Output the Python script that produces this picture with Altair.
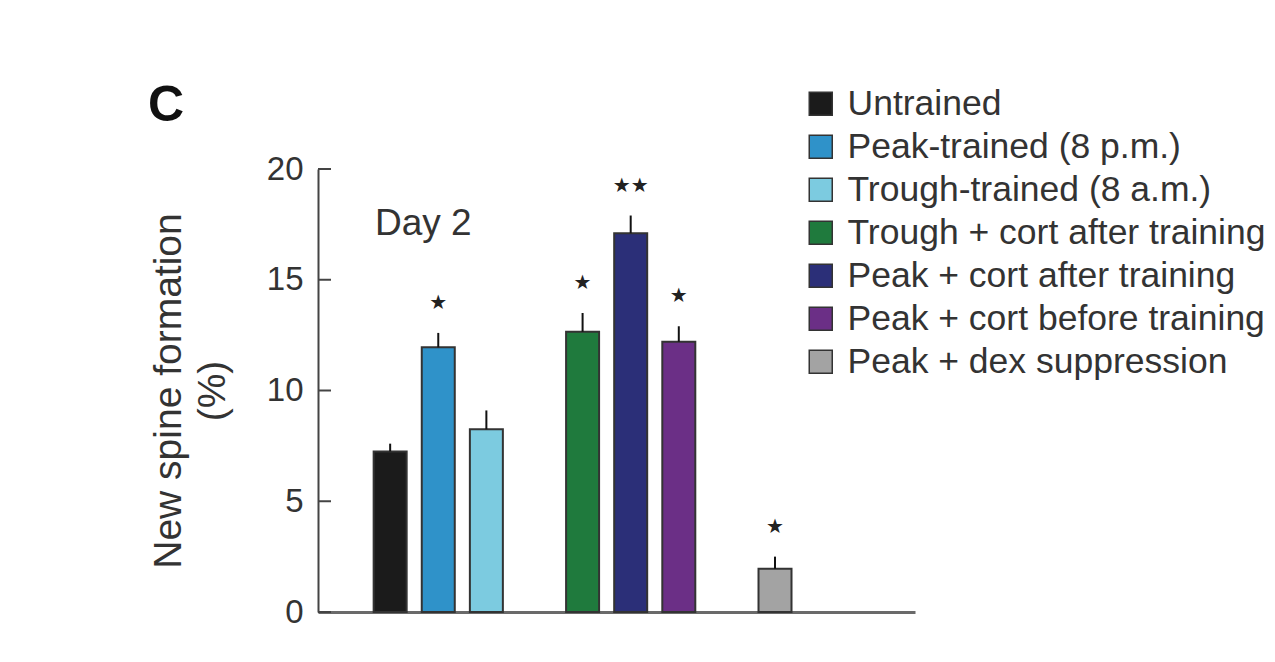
import altair as alt
import pandas as pd

# ---- data ----
groups = [
    "Untrained",
    "Peak-trained (8 p.m.)",
    "Trough-trained (8 a.m.)",
    "Trough + cort after training",
    "Peak + cort after training",
    "Peak + cort before training",
    "Peak + dex suppression",
]
means = [7.25, 11.95, 8.25, 12.65, 17.1, 12.2, 1.95]
sems = [0.35, 0.65, 0.85, 0.85, 0.8, 0.7, 0.55]
stars = ["", "★", "", "★", "★★", "★", "★"]
colors = ["#1b1b1b", "#2f92c9", "#7ccbe0", "#1f7a3d", "#2b2f78", "#6b2f86", "#a3a3a3"]
y_ticks = [0, 5, 10, 15, 20]

# band slots: empty spacer slots around and between the three groups of bars
x_domain = [" "] + groups[:3] + ["  "] + groups[3:6] + ["   "] + groups[6:] + ["    ", "     "]

df = pd.DataFrame({
    "group": groups,
    "mean": means,
    "upper": [m + s for m, s in zip(means, sems)],
    "star": stars,
})

FONT = "Liberation Sans"
TXT = "#333333"

x_scale = alt.Scale(domain=x_domain, paddingInner=0, paddingOuter=0.205, align=0)
y_scale = alt.Scale(domain=[0, 20], nice=False)

x_axis = alt.Axis(labels=False, ticks=False, title=None,
                  domainColor="#6a6a6a", domainWidth=3)
y_axis = alt.Axis(values=y_ticks, ticks=False, tickSize=0, grid=False,
                  domainColor="#444444", domainWidth=2,
                  labelFont=FONT, labelFontSize=33, labelColor=TXT,
                  labelPadding=15,
                  title=["New spine formation", "(%)"],
                  titleFont=FONT, titleFontSize=39, titleFontWeight="normal",
                  titleColor=TXT, titleAngle=-90, titleX=-150, titleY=221.5,
                  titleBaseline="middle", titleAlign="center",
                  titleLineHeight=44)

base = alt.Chart(df)

bars = base.mark_bar(size=33, stroke="#333333", strokeWidth=2).encode(
    x=alt.X("group:N", scale=x_scale, axis=x_axis),
    y=alt.Y("mean:Q", scale=y_scale, axis=y_axis),
    color=alt.Color("group:N",
                    scale=alt.Scale(domain=groups, range=colors),
                    legend=alt.Legend(title=None, orient="none", legendX=485, legendY=-83,
                                      symbolType="square", symbolSize=529,
                                      symbolStrokeColor="#333333", symbolStrokeWidth=1.5,
                                      labelFont=FONT, labelFontSize=35.5, labelColor=TXT,
                                      labelOffset=9, labelLimit=0, rowPadding=6)),
)

err = base.mark_rule(color="#111111", strokeWidth=2).encode(
    x=alt.X("group:N", scale=x_scale, axis=x_axis),
    y=alt.Y("mean:Q", scale=y_scale, axis=y_axis),
    y2="upper:Q",
)

star_text = base.mark_text(font="DejaVu Sans", fontSize=20, dy=-30,
                           baseline="middle", color="#222222").encode(
    x=alt.X("group:N", scale=x_scale, axis=x_axis),
    y=alt.Y("upper:Q", scale=y_scale, axis=y_axis),
    text="star:N",
)

ticks = alt.Chart(pd.DataFrame({"tick": y_ticks})).mark_rule(
    color="#444444", strokeWidth=2).encode(
    y=alt.Y("tick:Q", scale=y_scale, axis=y_axis),
    x=alt.value(0), x2=alt.value(13),
)

panel = alt.Chart(pd.DataFrame({"t": ["C"]})).mark_text(
    font=FONT, fontSize=50, fontWeight="bold", color="#111111",
    align="left", baseline="alphabetic").encode(
    text="t:N", x=alt.value(-170), y=alt.value(-48))

day = alt.Chart(pd.DataFrame({"t": ["Day 2"]})).mark_text(
    font=FONT, fontSize=37, color=TXT,
    align="left", baseline="alphabetic").encode(
    text="t:N", x=alt.value(57), y=alt.value(66))

chart = alt.layer(bars, err, star_text, ticks, panel, day).properties(
    width=597, height=443,
    autosize=alt.AutoSizeParams(type="none"),
    padding={"left": 310, "top": 161, "right": 352, "bottom": 40},
    background="white",
).configure_view(stroke=None)

chart.save("out.html", embed_options={"renderer": "svg", "actions": False})
